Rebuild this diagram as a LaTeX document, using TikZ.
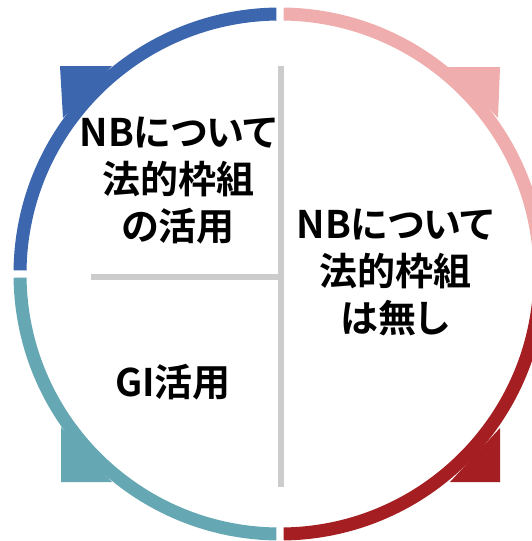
\documentclass[tikz,border=0pt]{standalone}
\usepackage{fontspec}
\setmainfont{Noto Sans CJK JP}[BoldFont=* Bold, RawFeature={+palt}]
\definecolor{cblue}{HTML}{3C66AE}
\definecolor{cpink}{HTML}{F0ADAD}
\definecolor{cred}{HTML}{A51F22}
\definecolor{cteal}{HTML}{65A8B4}
\definecolor{cgrey}{HTML}{CCCCCC}
\tikzset{
  ring/.style={line width=13pt, line cap=butt},
  divider/.style={draw=cgrey, line width=5.5pt},
  label/.style={font=\bfseries\fontsize{38}{47}\selectfont, align=center, inner sep=0pt, text=black}
}
\begin{document}
\begin{tikzpicture}[x=1pt,y=-1pt]
\useasboundingbox (0,0) rectangle (532,541);
\clip (0,0) rectangle (532,541);
\fill[white] (0,0) rectangle (532,541);
\coordinate (c) at (280,274);
% ring arcs
\draw[ring, cblue] (c) ++(180.8:260) arc[start angle=180.8, end angle=269.2, radius=260];
\draw[ring, cpink] (c) ++(270.8:260) arc[start angle=270.8, end angle=359.2, radius=260];
\draw[ring, cred]  (c) ++(0.8:260) arc[start angle=0.8, end angle=89.2, radius=260];
\draw[ring, cteal] (c) ++(90.8:260) arc[start angle=90.8, end angle=179.2, radius=260];
% arrow heads
\fill[cblue] (60,66) -- (112,66) -- (63,118) -- cycle;
\fill[cpink] (500,67) -- (448,67) -- (498,118) -- cycle;
\fill[cred]  (500,482) -- (450,482) -- (500,428) -- cycle;
\fill[cteal] (61,482) -- (112,482) -- (61,427) -- cycle;
% dividers
\coordinate (vtop) at (281,66);
\coordinate (vbot) at (281,487);
\coordinate (hl) at (91,276.5);
\coordinate (hr) at (281,276.5);
\draw[divider] (vtop) -- (vbot);
\draw[divider, line width=6pt] (hl) -- (hr);
% labels
\node[label] (t1) at (178,181) {NBについて\\法的枠組\\の活用};
\node[label] (t2) at (395,272) {NBについて\\法的枠組\\は無し};
\node[label] (t3) at (173,382) {GI活用};
\end{tikzpicture}
\end{document}
